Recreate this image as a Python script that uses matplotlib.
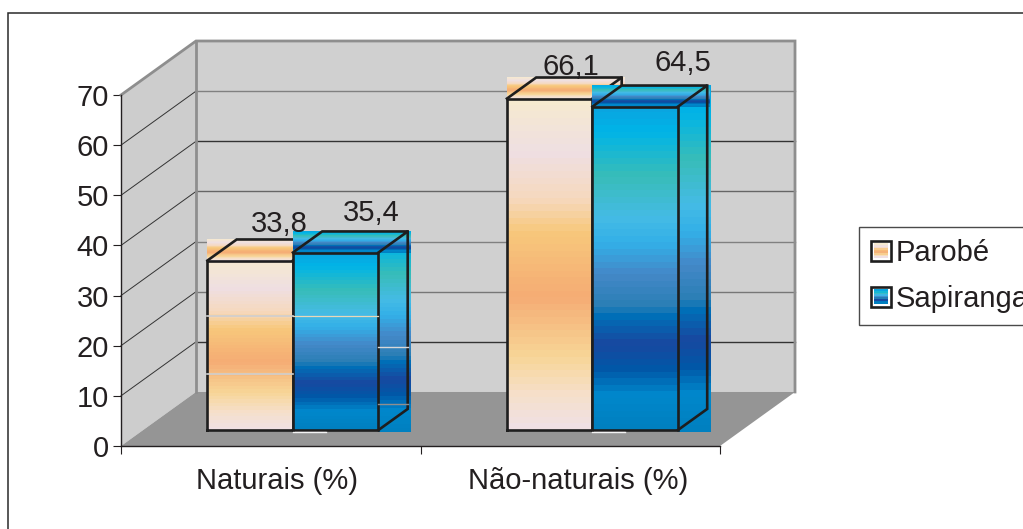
import numpy as np
import matplotlib
matplotlib.use('Agg')
import matplotlib.pyplot as plt
from matplotlib.patches import Polygon, Rectangle, Patch
from matplotlib.lines import Line2D
from matplotlib.legend_handler import HandlerBase
from matplotlib.colors import to_rgb

plt.rcParams['font.family'] = ['Liberation Sans', 'DejaVu Sans']

categories = ['Naturais (%)', 'Não-naturais (%)']
series_names = ['Parobé', 'Sapiranga']
parobe = [33.8, 66.1]
sapiranga = [35.4, 64.5]
value_labels = [['33,8', '66,1'], ['35,4', '64,5']]
yticks = [0, 10, 20, 30, 40, 50, 60, 70]

# style: gradient stops (fraction from top, colour)
stops_p = [(0, '#F6EAD0'), (.16, '#EFDFE2'), (.30, '#F6D9BE'), (.40, '#F8C87C'),
           (.60, '#F5AC74'), (.78, '#F8D596'), (.90, '#F6E0CA'), (1, '#F0E0E4')]
stops_s = [(0, '#0AA5E0'), (.07, '#00B4E8'), (.21, '#38BDB8'), (.34, '#45BBE5'),
           (.42, '#33B0E8'), (.52, '#4488C8'), (.62, '#2A7FB5'), (.65, '#0070B8'),
           (.74, '#1848A0'), (.82, '#0058A8'), (.90, '#0088CC'), (1, '#0080C0')]
INK = '#231F20'
FS = 21
W, H = 1023, 529
DX, DY = 75 / 299.5, 54 / 5.014   # data-unit shift of a full depth step
BW = 0.2855                       # bar width
D0, D1 = 0.296, 0.686             # bar depth range


def ramp(stops, n=50):
    t = np.linspace(0, 1, n)
    f = [s[0] for s in stops]
    c = np.array([to_rgb(s[1]) for s in stops])
    return np.stack([np.interp(t, f, c[:, i]) for i in range(3)], axis=1)[:, None, :]


def P(x, y, d):
    return x + d * DX, y + d * DY


fig = plt.figure(figsize=(W / 100, H / 100), dpi=100, facecolor='white')
ax = fig.add_axes([121 / W, 1 - 446 / H, 599 / W, 351 / H])
ax.patch.set_visible(False)
ax.set_xlim(0, 2)
ax.set_ylim(0, 70)
ax.set_autoscale_on(False)


def poly(pts, **kw):
    ax.add_patch(Polygon(pts, closed=True, clip_on=False, **kw))


# walls and floor
poly([P(0, 0, 0), P(0, 70, 0), P(0, 70, 1), P(0, 0, 1)], fc='#CDCDCD', ec='none', zorder=1)
poly([P(0, 0, 1), P(0, 70, 1), P(2, 70, 1), P(2, 0, 1)], fc='#D0D0D0', ec='none', zorder=1)
poly([P(0, 0, 0), P(0, 0, 1), P(2, 0, 1), P(2, 0, 0)], fc='#959595', ec='none', zorder=1)

grid_cols = {10: '#333333', 20: '#777777', 30: '#808080', 40: '#666666', 50: '#333333', 60: '#808080'}
for v, col in grid_cols.items():
    a, b, c = P(0, v, 0), P(0, v, 1), P(2, v, 1)
    ax.plot([a[0], b[0]], [a[1], b[1]], color='#333333', lw=0.7, clip_on=False, zorder=2)
    ax.plot([b[0], c[0]], [b[1], c[1]], color=col, lw=1.0, clip_on=False, zorder=2)
edge = '#8E8E8E'
for q in ([P(0, 70, 0), P(0, 70, 1), P(2, 70, 1), P(2, 0, 1)], [P(0, 70, 1), P(0, 0, 1)]):
    ax.plot(*zip(*q), color=edge, lw=2.0, clip_on=False, zorder=2, solid_joinstyle='miter')


def image(stops, x0, x1, y0, y1, z):
    ax.imshow(ramp(stops), extent=[x0, x1, y0, y1], aspect='auto', interpolation='nearest',
              origin='upper', clip_on=False, zorder=z)


def bar(left, value, stops, z):
    right = left + BW
    xl, yb = P(left, 0, D0)
    xr, yt = P(right, value, D0)
    xbk, ytb = P(right, value, D1)
    # raster fills overshoot the outline a little, as in the source artwork
    img_r = xbk + 3 / 299.5
    image(stops, xl, xr, yb, yt, z)
    image(stops, xr, img_r, yb - 0.4, ytb, z)
    image(stops, xl, img_r, yt, ytb, z + 0.1)
    k = dict(color='#1E1E1E', lw=1.9, clip_on=False, zorder=z + 0.2, solid_joinstyle='miter')
    ax.plot([xl, xl, xr, xr, xl], [yb, yt, yt, yb, yb], **k)
    ax.plot(*zip(P(left, value, D0), P(left, value, D1), P(right, value, D1), P(right, value, D0)), **k)
    ax.plot(*zip(P(right, 0, D0), P(right, 0, D1), P(right, value, D1)), **k)


centers = [0.5, 1.5]
for i, c in enumerate(centers):
    z = 3 + i * 2
    bar(c - BW, parobe[i], stops_p, z)
    bar(c, sapiranga[i], stops_s, z + 0.5)
    # thin light sliver under the second bar
    x0, y0 = P(c, 0, D0)
    ax.plot([x0, x0 + 33 / 299.5], [y0 - 0.3] * 2, color='#F4F4F4', lw=1.0, clip_on=False, zorder=z + 1)

# stray grid slivers left in the artwork of the first group
x0 = P(centers[0] - BW, 0, D0)[0]
x1 = P(centers[0], 0, D0)[0]
x2 = P(centers[0] + BW, 0, D0)[0]
x3 = P(centers[0] + BW, 0, D1)[0]
ax.plot([x0, x1], [26, 26], color='#CFCFCF', lw=1.2, clip_on=False, zorder=7)
ax.plot([x0, x1], [14.4, 14.4], color='#CFCFCF', lw=1.2, clip_on=False, zorder=7)
ax.plot([x1, x2], [26, 26], color='#E8D8B8', lw=0.9, clip_on=False, zorder=7)
ax.plot([x2, x3], [19.8, 19.8], color='#D8D8D8', lw=1.0, clip_on=False, zorder=7)
ax.plot([x2, x3], [8.4, 8.4], color='#8F8F8F', lw=1.0, clip_on=False, zorder=7)

# value labels (offsets in points from each bar's top-front-left corner)
label_offsets = [[(52, 26), (46, 23)], [(56.5, 28.3), (65, 31.5)]]
for s, (vals, left_off) in enumerate(zip((parobe, sapiranga), (-BW, 0))):
    for i, v in enumerate(vals):
        xy = P(centers[i] + left_off, v, D0)
        ax.annotate(value_labels[s][i], xy, xytext=label_offsets[s][i], textcoords='offset points',
                    ha='center', va='center', fontsize=FS, color=INK, zorder=20, annotation_clip=False)

# axes furniture
for sp in ('top', 'right'):
    ax.spines[sp].set_visible(False)
for sp in ('left', 'bottom'):
    ax.spines[sp].set_color(INK)
    ax.spines[sp].set_linewidth(1.0)
    ax.spines[sp].set_zorder(15)
ax.set_yticks(yticks)
ax.set_xticks([0, 1, 2], labels=['', '', ''])
ax.set_xticks([0.521, 1.527], labels=categories, minor=True)
ax.tick_params(axis='y', length=6, width=0.8, color=INK, labelsize=FS, labelcolor=INK, pad=2.8)
ax.tick_params(axis='x', which='major', length=6, width=0.8, color=INK)
ax.tick_params(axis='x', which='minor', length=0, labelsize=FS, labelcolor=INK, pad=15)


# legend with banded swatches
class BandHandler(HandlerBase):
    def __init__(self, stops):
        super().__init__()
        self.stops = stops

    def create_artists(self, legend, orig, xd, yd, width, height, fontsize, trans):
        cols = ramp(self.stops, 9)[:, 0, :]
        arts = []
        n = len(cols)
        for k, c in enumerate(cols):
            arts.append(Rectangle((-xd + 2, -yd + 2 + (height - 4) * (n - 1 - k) / n), width - 4, (height - 4) / n,
                                  fc=c, ec='none', transform=trans))
        arts.append(Rectangle((-xd, -yd), width, height, fc='none', ec='#1E1E1E', lw=1.9, transform=trans))
        return arts


h_p = Patch(label=series_names[0])
h_s = Patch(label=series_names[1])
leg = ax.legend(handles=[h_p, h_s], handler_map={h_p: BandHandler(stops_p), h_s: BandHandler(stops_s)},
                loc='upper left', bbox_to_anchor=(858.5 / W, 1 - 226.5 / H), bbox_transform=fig.transFigure,
                fontsize=FS, frameon=True, fancybox=False, framealpha=1, edgecolor='#4A4A4A',
                handlelength=0.68, handleheight=0.68, handletextpad=0.16, labelspacing=0.62,
                borderpad=0.42, borderaxespad=0, labelcolor=INK)
leg.get_frame().set_linewidth(1.0)
leg.set_zorder(30)
leg.set_clip_on(False)

# outer chart frame: left and top rules only, running off the page
fig.add_artist(Line2D([8 / W, 8 / W, 1], [0, 1 - 13 / H, 1 - 13 / H], transform=fig.transFigure,
                      color='#2A2A2A', lw=1.1, solid_joinstyle='miter', zorder=-1))

fig.savefig('out.png', dpi=100, facecolor='white')
